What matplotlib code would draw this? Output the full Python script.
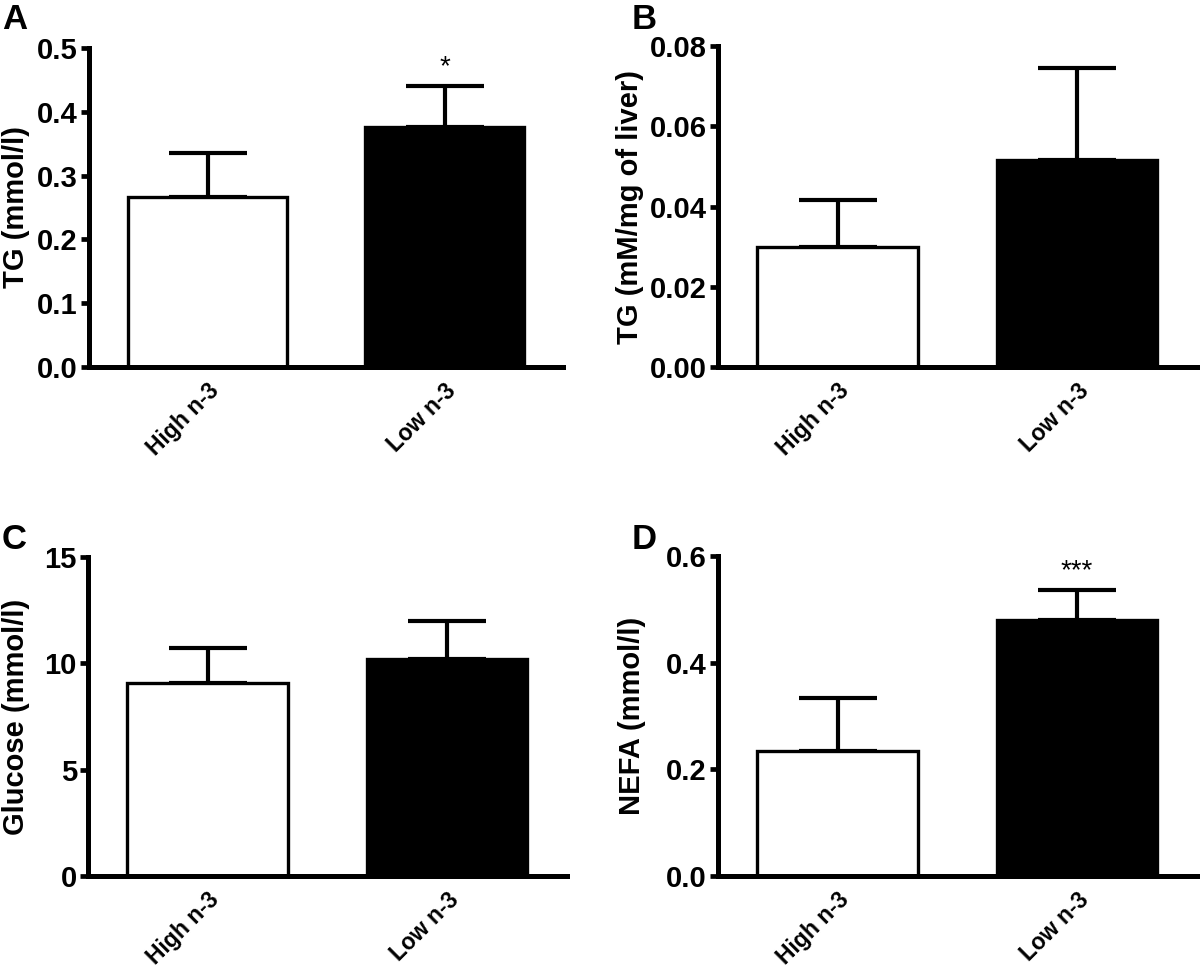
import matplotlib
matplotlib.use('Agg')
import matplotlib.pyplot as plt

plt.rcParams['font.family'] = ['Liberation Sans', 'DejaVu Sans']
plt.rcParams['font.weight'] = 'bold'

groups = ['High n-3', 'Low n-3']

# panel A: plasma TG
tg_mean = [0.267, 0.376]
tg_sem = [0.068, 0.065]
tg_ticks = [0.0, 0.1, 0.2, 0.3, 0.4, 0.5]
tg_ticklabels = ['0.0', '0.1', '0.2', '0.3', '0.4', '0.5']

# panel B: liver TG
liver_mean = [0.0299, 0.0515]
liver_sem = [0.0118, 0.0229]
liver_ticks = [0.0, 0.02, 0.04, 0.06, 0.08]
liver_ticklabels = ['0.00', '0.02', '0.04', '0.06', '0.08']

# panel C: glucose
glu_mean = [9.08, 10.22]
glu_sem = [1.66, 1.76]
glu_ticks = [0, 5, 10, 15]
glu_ticklabels = ['0', '5', '10', '15']

# panel D: NEFA
nefa_mean = [0.235, 0.480]
nefa_sem = [0.098, 0.056]
nefa_ticks = [0.0, 0.2, 0.4, 0.6]
nefa_ticklabels = ['0.0', '0.2', '0.4', '0.6']


def barPanel(ax, means, sems, ticks, ticklabels, ylabel, letter, star,
             labelx, lettery):
  """Two-bar panel with upward-only error bars."""
  x = [0, 1]
  ax.bar(x, means, width=0.67, color=['white', 'black'],
         edgecolor='black', linewidth=2.4, zorder=2)
  ax.errorbar(x, means, yerr=[[0, 0], sems], fmt='none', ecolor='black',
              elinewidth=3, capsize=28, capthick=3, zorder=1)
  ax.set_xlim(-0.5, 1.5)
  ax.set_ylim(ticks[0], ticks[-1])
  ax.set_yticks(ticks)
  ax.set_yticklabels(ticklabels, fontsize=21, fontweight='bold')
  ax.set_xticks(x)
  ax.set_xticklabels(groups, rotation=45, ha='right',
                     rotation_mode='anchor', fontsize=16.5, fontweight='bold')
  ax.tick_params(axis='x', length=0, pad=9)
  ax.tick_params(axis='y', length=6, width=3.4, pad=2)
  for side in ['top', 'right']:
    ax.spines[side].set_visible(False)
  for side in ['left', 'bottom']:
    ax.spines[side].set_linewidth(3.6)
  ax.spines['left'].set_capstyle('projecting')
  ax.set_ylabel(ylabel, fontsize=21, fontweight='bold')
  ax.yaxis.set_label_coords(labelx, 0.5)
  if star:
    ax.annotate(star, xy=(1, means[1] + sems[1]), xytext=(0, 4),
                textcoords='offset points', ha='center', va='bottom',
                fontsize=20, fontweight='normal')
  ax.figure.text(ax.get_position().x0 - 0.072, lettery,
                 letter, fontsize=25, fontweight='bold', va='top',
                 ha='left')


fig = plt.figure(figsize=(12, 9.73), dpi=100)
axA = fig.add_axes([0.0742, 0.6228, 0.3950, 0.3279])
axB = fig.add_axes([0.5983, 0.6228, 0.3990, 0.3299])
axC = fig.add_axes([0.0733, 0.0997, 0.3990, 0.3278])
axD = fig.add_axes([0.5983, 0.0997, 0.3990, 0.3289])

barPanel(axA, tg_mean, tg_sem, tg_ticks, tg_ticklabels,
         'TG (mmol/l)', 'A', '*', -0.125, 0.997)
barPanel(axB, liver_mean, liver_sem, liver_ticks, liver_ticklabels,
         'TG (mM/mg of liver)', 'B', None, -0.155, 0.997)
barPanel(axC, glu_mean, glu_sem, glu_ticks, glu_ticklabels,
         'Glucose (mmol/l)', 'C', None, -0.122, 0.462)
barPanel(axD, nefa_mean, nefa_sem, nefa_ticks, nefa_ticklabels,
         'NEFA (mmol/l)', 'D', '***', -0.150, 0.462)

fig.savefig('out.png', dpi=100)
